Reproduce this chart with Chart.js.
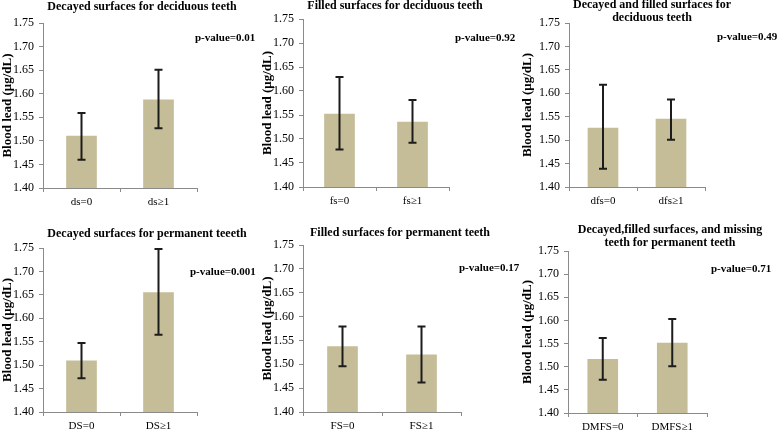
<!DOCTYPE html>
<html>
<head>
<meta charset="utf-8">
<script src="https://cdn.jsdelivr.net/npm/chart.js@4.4.1/dist/chart.umd.min.js"></script>
<style>
  body { margin: 0; background: #fff; }
  #wrap { position: relative; width: 779px; height: 430px; }
  #wrap canvas { position: absolute; }
</style>
</head>
<body>
<div id="wrap"></div>
<script>
// data (means with error bar ends)
const titles = [
    ['Decayed surfaces for deciduous teeth'],
    ['Filled surfaces for deciduous teeth'],
    ['Decayed and filled surfaces for', 'deciduous teeth'],
    ['Decayed surfaces for permanent teeeth'],
    ['Filled surfaces for permanent teeth'],
    ['Decayed,filled surfaces, and missing', 'teeth for permanent teeth']
];
const categories = [
    ['ds=0', 'ds≥1'],
    ['fs=0', 'fs≥1'],
    ['dfs=0', 'dfs≥1'],
    ['DS=0', 'DS≥1'],
    ['FS=0', 'FS≥1'],
    ['DMFS=0', 'DMFS≥1']
];
const means = [
    [1.510, 1.587],
    [1.552, 1.535],
    [1.526, 1.545],
    [1.509, 1.655],
    [1.537, 1.520],
    [1.516, 1.551]
];
const lower = [
    [1.460, 1.527],
    [1.478, 1.492],
    [1.439, 1.501],
    [1.472, 1.565],
    [1.496, 1.462],
    [1.472, 1.501]
];
const upper = [
    [1.559, 1.651],
    [1.629, 1.581],
    [1.618, 1.587],
    [1.547, 1.748],
    [1.579, 1.579],
    [1.562, 1.603]
];
const pValues = ['0.01', '0.92', '0.49', '0.001', '0.17', '0.71'];
const yMin = 1.40, yMax = 1.75, yStep = 0.05;
const yLabel = 'Blood lead (μg/dL)';

// panel placement: canvas box, plot area inside it, title and p-value spots
const boxes = [
    { x: 0,   y: 0,   w: 260, h: 215, area: [43, 23, 197, 188], tx: 142, ty: [7],      px: 195, py: 38 },
    { x: 260, y: 0,   w: 260, h: 215, area: [43, 19, 189, 187], tx: 135, ty: [6],      px: 195, py: 38 },
    { x: 520, y: 0,   w: 259, h: 215, area: [49, 23, 185, 187], tx: 132, ty: [5, 18],  px: 197, py: 37 },
    { x: 0,   y: 215, w: 260, h: 215, area: [43, 33, 197, 197], tx: 147, ty: [19],     px: 190, py: 57 },
    { x: 260, y: 215, w: 260, h: 215, area: [43, 30, 201, 197], tx: 140, ty: [18],     px: 199, py: 53 },
    { x: 520, y: 215, w: 259, h: 215, area: [48, 36, 187, 198], tx: 150, ty: [15, 28], px: 191, py: 54 }
];

const serif = 'Liberation Serif';
const axisGray = '#8a8a8a';

function makeOverlay(i) {
    const b = boxes[i];
    return {
        id: 'overlay' + i,
        afterDatasetsDraw(chart) {
            const ctx = chart.ctx;
            const y = chart.scales.y;
            const meta = chart.getDatasetMeta(0);
            ctx.save();
            ctx.strokeStyle = '#1c1c1c';
            ctx.lineWidth = 2;
            meta.data.forEach(function (bar, k) {
                const top = y.getPixelForValue(upper[i][k]);
                const bot = y.getPixelForValue(lower[i][k]);
                ctx.beginPath();
                ctx.moveTo(bar.x, top); ctx.lineTo(bar.x, bot);
                ctx.moveTo(bar.x - 4, top); ctx.lineTo(bar.x + 4, top);
                ctx.moveTo(bar.x - 4, bot); ctx.lineTo(bar.x + 4, bot);
                ctx.stroke();
            });
            ctx.fillStyle = '#000';
            ctx.textBaseline = 'middle';
            ctx.textAlign = 'center';
            ctx.font = 'bold 12px "' + serif + '"';
            titles[i].forEach(function (line, k) {
                ctx.fillText(line, b.tx, b.ty[k]);
            });
            ctx.textAlign = 'left';
            ctx.font = 'bold 11px "' + serif + '"';
            ctx.fillText('p-value=' + pValues[i], b.px, b.py);
            ctx.restore();
        }
    };
}

const wrap = document.getElementById('wrap');
for (let i = 0; i < boxes.length; i++) {
    const b = boxes[i];
    const canvas = document.createElement('canvas');
    canvas.width = b.w;
    canvas.height = b.h;
    canvas.style.left = b.x + 'px';
    canvas.style.top = b.y + 'px';
    wrap.appendChild(canvas);

    new Chart(canvas, {
        type: 'bar',
        data: {
            labels: categories[i],
            datasets: [{
                data: means[i],
                backgroundColor: '#c4bd97',
                borderWidth: 0,
                barThickness: 30
            }]
        },
        options: {
            responsive: false,
            animation: false,
            devicePixelRatio: 1,
            layout: { padding: { left: 0, top: b.area[1], right: b.w - b.area[2], bottom: 0 } },
            plugins: { legend: { display: false }, tooltip: { enabled: false } },
            scales: {
                x: {
                    grid: { drawOnChartArea: false, tickLength: 4, color: axisGray, offset: true },
                    border: { color: axisGray },
                    ticks: { color: '#000', padding: 4, font: { family: serif, size: 11 } },
                    afterFit: function (s) { s.height = b.h - b.area[3]; }
                },
                y: {
                    min: yMin,
                    max: yMax,
                    grid: { drawOnChartArea: false, tickLength: 4, color: axisGray },
                    border: { color: axisGray },
                    ticks: {
                        stepSize: yStep,
                        color: '#000',
                        padding: 5,
                        font: { family: serif, size: 12 },
                        callback: function (v) { return v.toFixed(2); }
                    },
                    title: {
                        display: true,
                        text: yLabel,
                        color: '#000',
                        padding: { top: 0, bottom: 0 },
                        font: { family: serif, size: 13, weight: 'bold' }
                    },
                    afterFit: function (s) { s.width = b.area[0]; }
                }
            }
        },
        plugins: [makeOverlay(i)]
    });
}
</script>
</body>
</html>
